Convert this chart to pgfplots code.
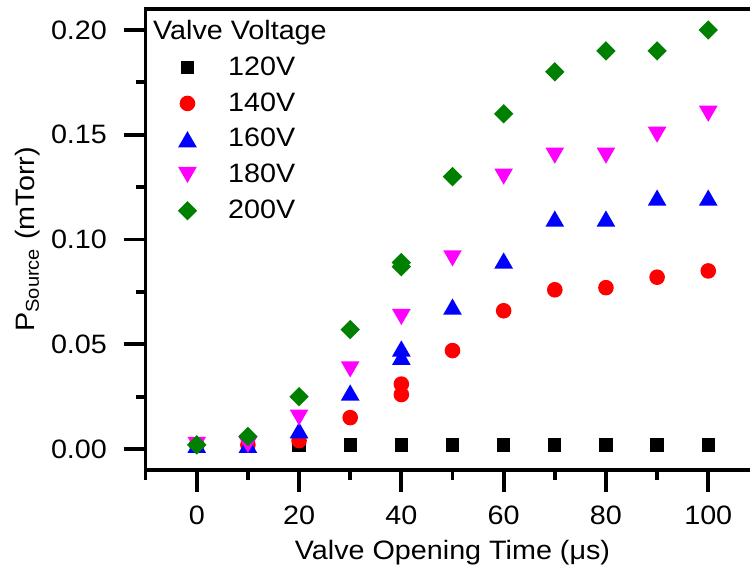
\documentclass[border=0pt]{standalone}
\usepackage{pgfplots}
\pgfplotsset{compat=1.18}
\usepackage{fontspec}
\setmainfont{Liberation Sans}[FakeStretch=1.08]
\definecolor{ogreen}{RGB}{0,128,0}
\definecolor{omag}{RGB}{255,0,255}
\definecolor{ored}{RGB}{255,0,0}
\definecolor{oblue}{RGB}{0,0,255}
\pgfdeclareplotmark{otri}{%
  \pgfpathmoveto{\pgfqpoint{0pt}{0.75\pgfplotmarksize}}%
  \pgfpathlineto{\pgfqpoint{0.866\pgfplotmarksize}{-0.75\pgfplotmarksize}}%
  \pgfpathlineto{\pgfqpoint{-0.866\pgfplotmarksize}{-0.75\pgfplotmarksize}}%
  \pgfpathclose\pgfusepathqfill}
\pgfdeclareplotmark{odtri}{%
  \pgfpathmoveto{\pgfqpoint{0pt}{-0.75\pgfplotmarksize}}%
  \pgfpathlineto{\pgfqpoint{0.866\pgfplotmarksize}{0.75\pgfplotmarksize}}%
  \pgfpathlineto{\pgfqpoint{-0.866\pgfplotmarksize}{0.75\pgfplotmarksize}}%
  \pgfpathclose\pgfusepathqfill}
\pgfdeclareplotmark{odia}{%
  \pgfpathmoveto{\pgfqpoint{0pt}{\pgfplotmarksize}}%
  \pgfpathlineto{\pgfqpoint{\pgfplotmarksize}{0pt}}%
  \pgfpathlineto{\pgfqpoint{0pt}{-\pgfplotmarksize}}%
  \pgfpathlineto{\pgfqpoint{-\pgfplotmarksize}{0pt}}%
  \pgfpathclose\pgfusepathqfill}
\pgfdeclareplotmark{osq}{%
  \pgfpathrectangle{\pgfqpoint{-\pgfplotmarksize}{-\pgfplotmarksize}}{\pgfqpoint{2\pgfplotmarksize}{2\pgfplotmarksize}}%
  \pgfusepathqfill}
\pgfdeclareplotmark{ocirc}{%
  \pgfpathcircle{\pgfpointorigin}{\pgfplotmarksize}%
  \pgfusepathqfill}
\newcommand{\fs}{\fontsize{13.3pt}{16pt}\selectfont}
\begin{document}
\begin{tikzpicture}[font=\fs]
\path[use as bounding box] (-72.8pt,-50.5pt) rectangle (302.2pt,235pt);
\begin{axis}[
  name=ax,
  scale only axis, width=306.9pt, height=230.5pt,
  xmin=-10, xmax=110, ymin=-0.01, ymax=0.21,
  clip=false,
  axis line style={line width=1.9pt},
  every tick/.style={line width=1.9pt, black},
  tick align=outside,
  xtick pos=bottom, ytick pos=left,
  major tick length=11pt, minor tick length=5pt,
  xtick={0,20,40,60,80,100}, minor xtick={10,30,50,70,90},
  ytick={0,0.05,0.1,0.15,0.2}, minor ytick={0.025,0.075,0.125,0.175},
  scaled y ticks=false,
  /pgf/number format/assume math mode=true,
  yticklabel style={/pgf/number format/fixed, /pgf/number format/fixed zerofill, /pgf/number format/precision=2, anchor=east, xshift=-4.8pt},
  tick label style={font=\fs},
  xticklabel style={anchor=north, yshift=-3.6pt},
  label style={font=\fs},
  xlabel={Valve Opening Time (μs)},
  xlabel style={at={(axis description cs:0.5,-0.18)}, anchor=center},
  ylabel={P\textsubscript{Source} (mTorr)},
  ylabel style={at={(axis description cs:-0.192,0.5)}, anchor=center},
  legend cell align=left,
  legend style={at={(axis description cs:0.0,1)}, anchor=north west, xshift=9.2pt, yshift=-1.5pt,
    draw=none, fill=none, font=\fs, row sep=3.1pt,
    /tikz/every odd column/.append style={column sep=13.5pt}},
]
\addlegendimage{empty legend}
\addlegendentry{\hspace*{-37.5pt}Valve Voltage}
\addplot[only marks, color=black, mark=osq, mark size=3.33pt] coordinates {
(0,0.002) (10,0.002) (20,0.002) (30,0.002) (40,0.002) (50,0.002)
(60,0.002) (70,0.002) (80,0.002) (90,0.002) (100,0.002)};
\addlegendentry{120V}
\addplot[only marks, color=ored, mark=ocirc, mark size=3.9pt] coordinates {
(0,0.002) (10,0.002) (20,0.004) (30,0.015) (40,0.031) (40,0.026) (50,0.047)
(60,0.066) (70,0.076) (80,0.077) (90,0.082) (100,0.085)};
\addlegendentry{140V}
\addplot[only marks, color=oblue, mark=otri, mark size=5.39pt] coordinates {
(0,0.002) (10,0.002) (20,0.009) (30,0.027) (40,0.048) (40,0.044) (50,0.068)
(60,0.090) (70,0.110) (80,0.110) (90,0.120) (100,0.120)};
\addlegendentry{160V}
\addplot[only marks, color=omag, mark=odtri, mark size=5.39pt] coordinates {
(0,0.002) (10,0.002) (20,0.015) (30,0.038) (40,0.063) (50,0.091)
(60,0.130) (70,0.140) (80,0.140) (90,0.150) (100,0.160)};
\addlegendentry{180V}
\addplot[only marks, color=ogreen, mark=odia, mark size=4.83pt] coordinates {
(0,0.002) (10,0.006) (20,0.025) (30,0.057) (40,0.089) (40,0.087) (50,0.130)
(60,0.160) (70,0.180) (80,0.190) (90,0.190) (100,0.200)};
\addlegendentry{200V}
\draw[line width=1.9pt] (rel axis cs:0,0) -- ++(0pt,-5pt);
\end{axis}
\draw[line width=1.9pt, black] (ax.north west) -- (ax.north east);
\end{tikzpicture}
\end{document}
